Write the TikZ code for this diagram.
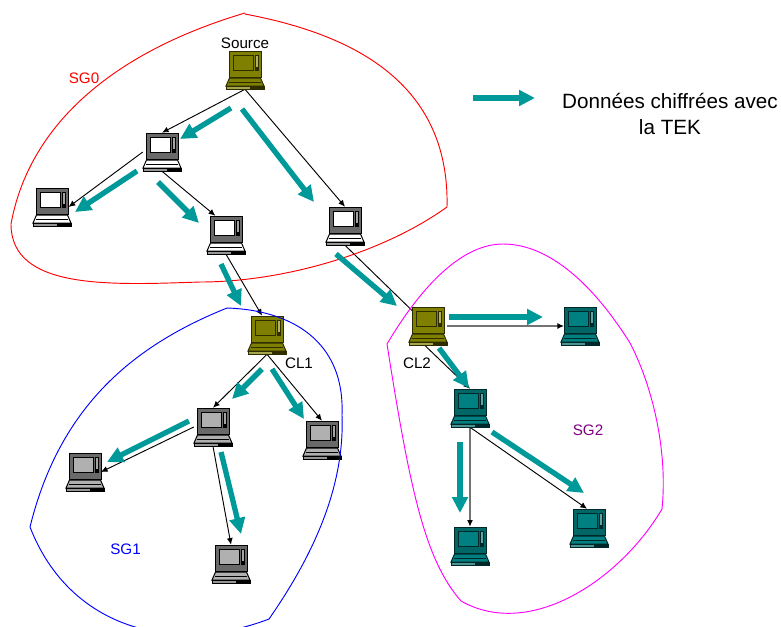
\documentclass[tikz,border=0pt]{standalone}
\usepackage{fontspec}
\setmainfont{Liberation Sans}
\usetikzlibrary{
arrows.meta,
backgrounds,
positioning
}
\tikzset{>=latex}
\definecolor{tealarrow}{RGB}{0,153,153}
\definecolor{oliveshell}{RGB}{128,128,0}
\definecolor{olivedark}{RGB}{45,45,0}
\definecolor{tealshell}{RGB}{0,102,102}
\definecolor{tealscreen}{RGB}{0,128,128}
\definecolor{tealdark}{RGB}{0,40,40}
\definecolor{greyshell}{RGB}{105,105,105}
\definecolor{greyscreen}{RGB}{176,176,176}
\definecolor{zonepink}{RGB}{255,0,255}
\definecolor{zonepurple}{RGB}{128,0,128}
\tikzset{
	hostbox/.style={inner sep=0pt,minimum width=28.5pt,minimum height=28.5pt},
	link/.style={-{Latex[black,length=5pt,width=4.5pt]},black,line width=0.7pt},
	greylink/.style={link,black!55,line width=1pt},
	flow/.style={-{Triangle[length=12pt,width=11.5pt]},tealarrow,line width=4pt},
	zone/.style={line width=0.7pt},
	lab/.style={font=\fontsize{11.4}{13}\selectfont,inner sep=0pt}
}
% #1 name, #2 position, #3 shell, #4 outline, #5 keyboard, #6 screen
\newcommand{\host}[6]{
	\node[hostbox] (#1) at (#2) {};
	\begin{scope}[shift={(#2)},line width=0.75pt,draw=#4]
		\filldraw[fill=#3] (-16,-19) rectangle (16,7);
		\filldraw[fill=#6] (-12,-15) rectangle (8,0);
		\filldraw[fill=#3!60!white] (10.5,-15) rectangle (13.5,-3);
		\fill[#4] (10,-3) rectangle (14,1);
		\filldraw[fill=#5] (-15.5,8) -- (15.5,8) -- (19,16) -- (-19,16) -- cycle;
		\draw (-16,12) -- (16,12);
		\filldraw[fill=#3!70!white] (-19,16) rectangle (19,19);
		\fill[#4] (5,16.5) rectangle (18.5,18.5);
	\end{scope}
}
\begin{document}
\begin{tikzpicture}[x=0.75pt,y=-0.75pt]
	\useasboundingbox (0,0) rectangle (781,626);
	% hosts
	\host{src}{245,70}{oliveshell}{olivedark}{oliveshell}{oliveshell}
	\host{hostA}{162,152}{greyshell}{black}{white}{white}
	\host{hostB}{226,235}{greyshell}{black}{white}{white}
	\host{hostC}{52,207}{greyshell}{black}{white}{white}
	\host{hostD}{345,226}{greyshell}{black}{white}{white}
	\host{clOne}{267,335}{oliveshell}{olivedark}{oliveshell}{oliveshell}
	\host{clTwo}{428,326}{oliveshell}{olivedark}{oliveshell}{oliveshell}
	\host{hostE}{580,326}{tealshell}{tealdark}{tealscreen}{tealscreen}
	\host{hostF}{470,408}{tealshell}{tealdark}{tealscreen}{tealscreen}
	\host{hostG}{470,546}{tealshell}{tealdark}{tealscreen}{tealscreen}
	\host{hostH}{589,528}{tealshell}{tealdark}{tealscreen}{tealscreen}
	\host{hostI}{213,427}{greyshell}{black}{greyscreen}{greyscreen}
	\host{hostJ}{85,472}{greyshell}{black}{greyscreen}{greyscreen}
	\host{hostK}{322,440}{greyshell}{black}{greyscreen}{greyscreen}
	\host{hostL}{231,564}{greyshell}{black}{greyscreen}{greyscreen}
	% groups
	\draw[zone,red] (245,14) .. controls (340,32) and (450,75) .. (447,207) .. controls (380,255) and (280,282) .. (200,282) .. controls (110,285) and (11,290) .. (11,224) .. controls (30,120) and (120,50) .. (245,13);
	\draw[zone,blue] (227,308) .. controls (290,310) and (345,340) .. (342,415) .. controls (345,490) and (310,560) .. (269,619) .. controls (175,655) and (70,630) .. (30,527) .. controls (60,405) and (135,345) .. (227,308);
	\draw[zone,zonepink] (387,344) .. controls (425,280) and (465,244) .. (503,244) .. controls (555,244) and (600,295) .. (630,343) .. controls (652,385) and (668,450) .. (662,509) .. controls (620,580) and (530,640) .. (461,601) .. controls (425,560) and (410,490) .. (387,344);
	% connectors
	\begin{scope}[on background layer]
		\draw[link] (src.south) -- (hostA.north);
		\draw[link] (src.south) -- (hostD.north);
		\draw[link] (hostA.south) -- ([xshift=-8pt]hostB.north);
		\draw[link] (hostA.west) -- ([xshift=-2pt]hostC.east);
		\draw[link] (hostB.south) -- ([xshift=-3.7pt]clOne.north);
		\draw[link,-] (hostD.south) -- (clTwo.center);
		\draw[greylink] (clTwo.east) -- ([xshift=2.5pt]hostE.west);
		\draw[link] ([xshift=-2.5pt]clTwo.south) -- (hostF.north);
		\draw[greylink] (hostF.south) -- (hostG.north);
		\draw[link] (hostF.south) -- ([xshift=-1.5pt]hostH.north);
		\draw[link] (clOne.south) -- (hostI.north);
		\draw[link] (clOne.south) -- (hostK.north);
		\draw[link] (hostI.west) -- ([xshift=-2.5pt]hostJ.east);
		\draw[link] (hostI.south) -- (hostL.north);
	\end{scope}
	% data flows
	\coordinate (f1a) at (231,108); \coordinate (f1b) at (180,139);
	\coordinate (f2a) at (242,109); \coordinate (f2b) at (314,202);
	\coordinate (f3a) at (137,171); \coordinate (f3b) at (75,212);
	\coordinate (f4a) at (158,182); \coordinate (f4b) at (199,223);
	\coordinate (f5a) at (221,264); \coordinate (f5b) at (241,306);
	\coordinate (f6a) at (336,254); \coordinate (f6b) at (397,306);
	\coordinate (f7a) at (473,98); \coordinate (f7b) at (535,98);
	\coordinate (f8a) at (449,317); \coordinate (f8b) at (543,317);
	\coordinate (f9a) at (439,348); \coordinate (f9b) at (469,388);
	\coordinate (f10a) at (262,369); \coordinate (f10b) at (232,399);
	\coordinate (f11a) at (272,369); \coordinate (f11b) at (304,419);
	\coordinate (f12a) at (189,421); \coordinate (f12b) at (107,462);
	\coordinate (f13a) at (221,452); \coordinate (f13b) at (241,534);
	\coordinate (f14a) at (460,442); \coordinate (f14b) at (460,513);
	\coordinate (f15a) at (492,432); \coordinate (f15b) at (584,493);
	\foreach \i in {1,...,15}
		\draw[flow] (f\i a) -- (f\i b);
	% labels
	\node[lab] (srcLab) at (245,43) {Source};
	\node[lab,red] (sgZero) at (84,78) {SG0};
	\node[lab,blue] (sgOne) at (125.5,549) {SG1};
	\node[lab,zonepurple] (sgTwo) at (588,430) {SG2};
	\node[lab] (clOneLab) at (299,363) {CL1};
	\node[lab] (clTwoLab) at (417,363) {CL2};
	\node[align=center,inner sep=0pt,font=\fontsize{15.5}{19.5}\selectfont] (legend) at (670,114) {Données chiffrées avec\\la TEK};
\end{tikzpicture}
\end{document}
